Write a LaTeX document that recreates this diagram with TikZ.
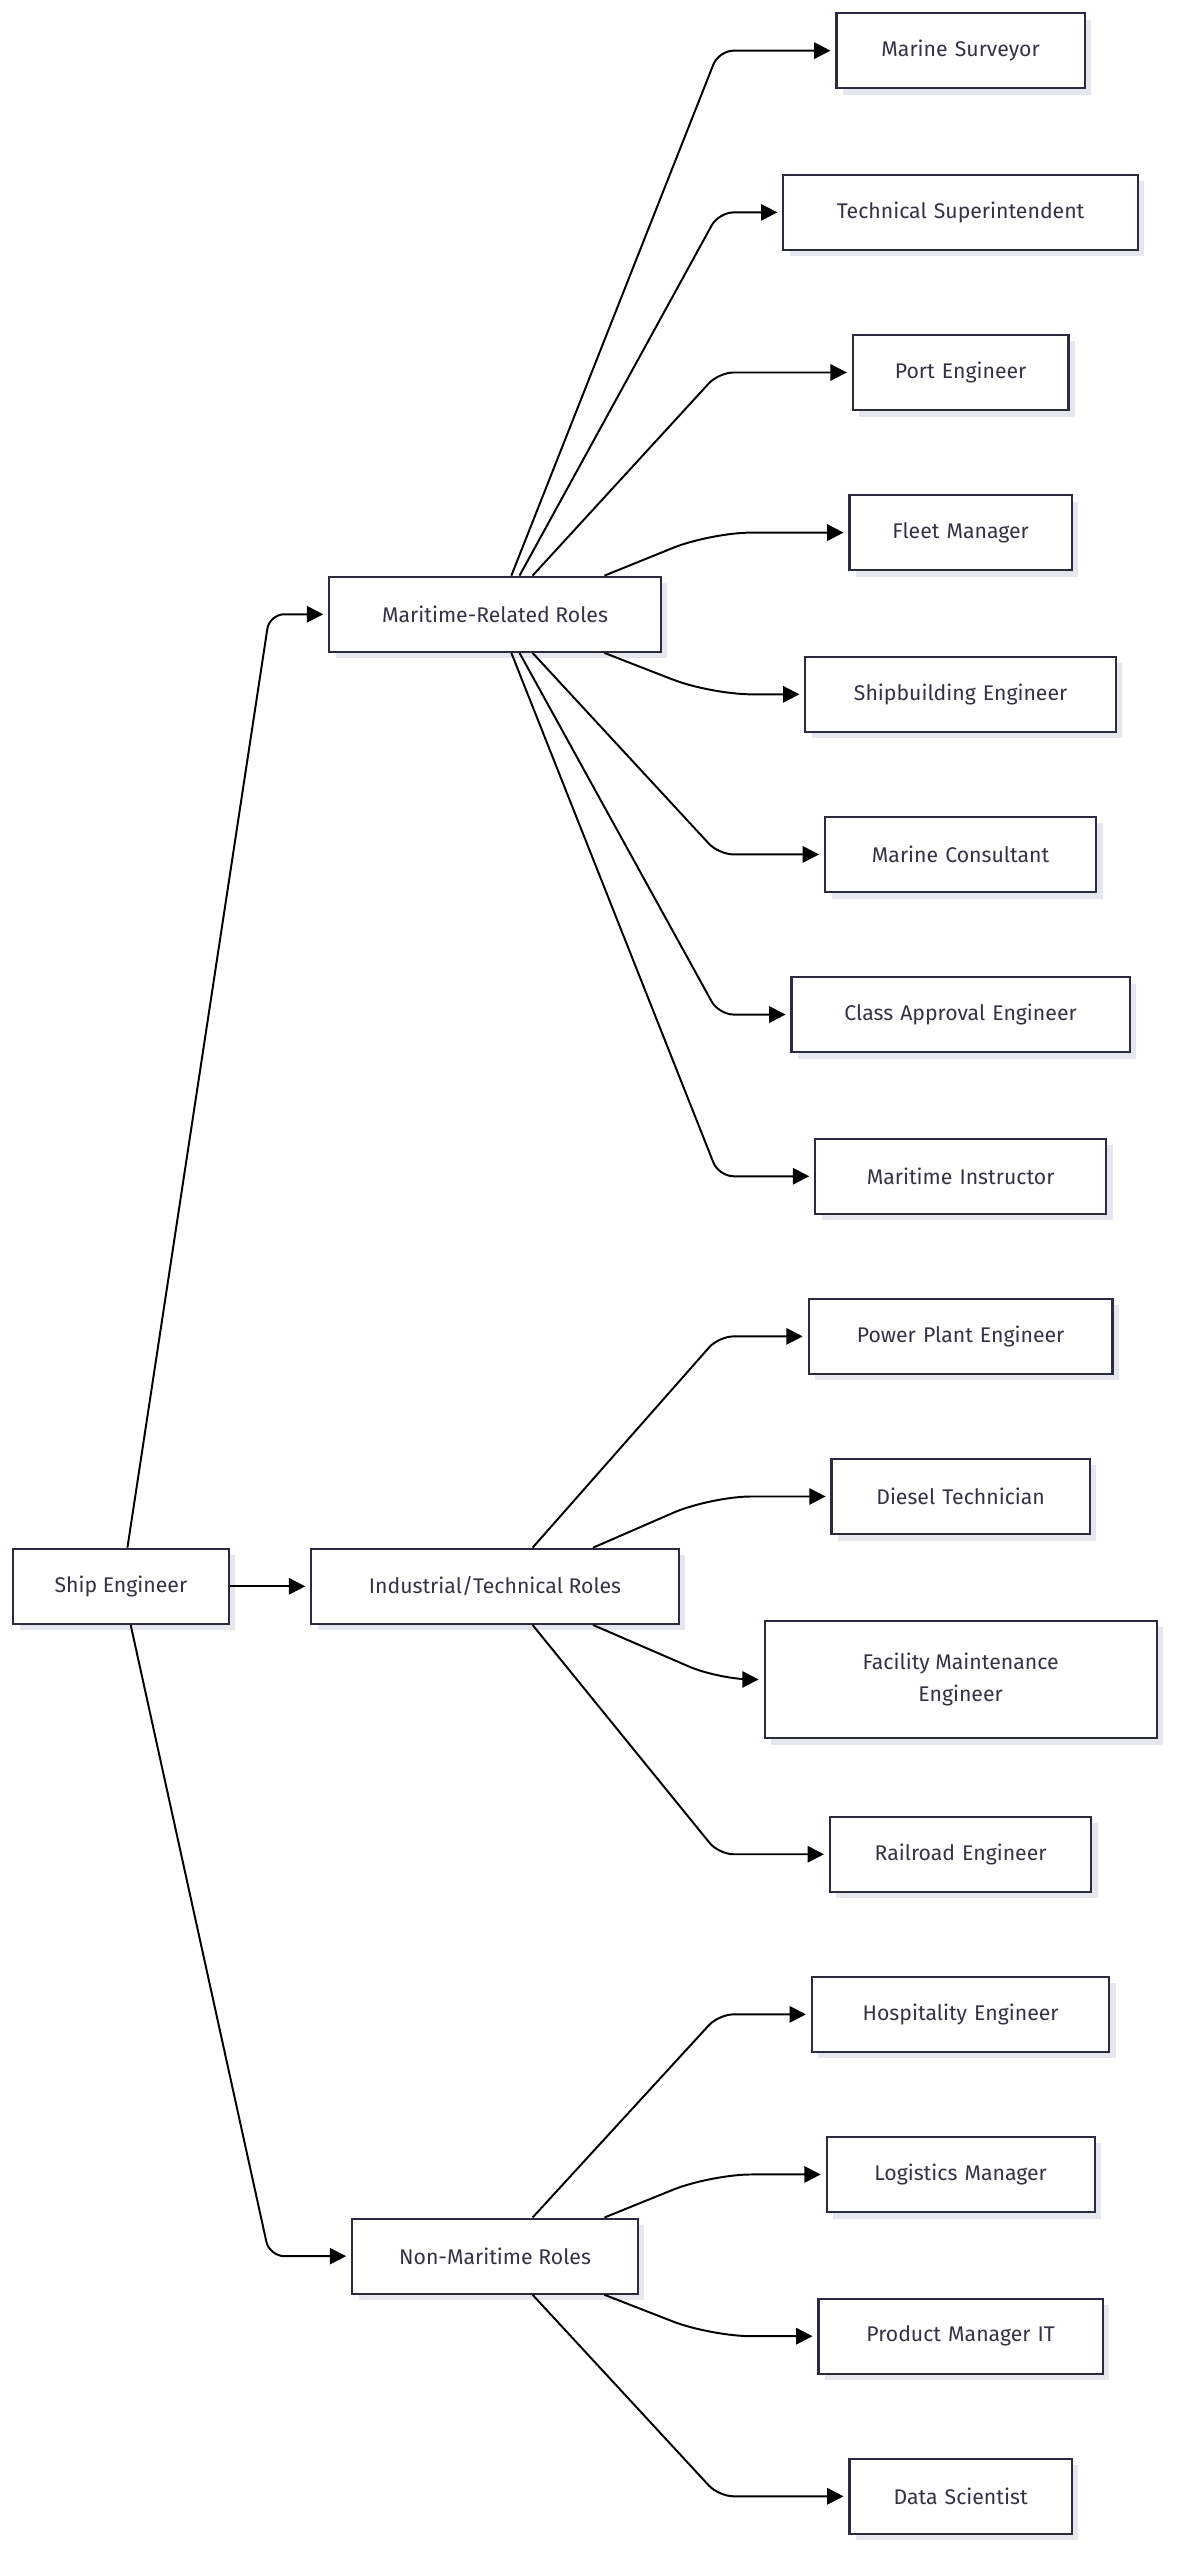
\documentclass[tikz,border=0pt]{standalone}
\usepackage{fontspec}
\setmainfont{Fira Sans}
\usetikzlibrary{arrows.meta,calc}
\definecolor{bd}{HTML}{2A2A40}
\definecolor{sh}{HTML}{E6E6EE}
\definecolor{tx}{HTML}{333344}
\begin{document}
\begin{tikzpicture}[x=1pt,y=-1pt,
 box/.style={draw=bd,line width=1.3pt,fill=white,minimum height=46pt,inner xsep=8pt,
   font=\fontsize{13}{20}\selectfont,text=tx,align=center,
   preaction={fill=sh,draw=none,transform canvas={shift={(4pt,-4pt)}}}},
 ed/.style={draw=black,line width=1.2pt,rounded corners=9pt,shorten >=3pt,-{Triangle[length=10pt,width=10pt]}}]
\useasboundingbox (0,0) rectangle (720,1567);
\node[box,minimum width=132pt] (se) at (74,971) {Ship Engineer};
\node[box,minimum width=203pt] (mr) at (303,376) {Maritime-Related Roles};
\node[box,minimum width=225pt] (it) at (303,971) {Industrial/Technical Roles};
\node[box,minimum width=175pt] (nm) at (303,1381) {Non-Maritime Roles};
\foreach \n/\w/\y/\t in {a/152/31/Marine Surveyor,b/217/130/Technical Superintendent,c/132/228/Port Engineer,d/136/326/Fleet Manager,e/190/425/Shipbuilding Engineer,f/166/523/Marine Consultant,g/207/621/Class Approval Engineer,h/178/720/Maritime Instructor,i/186/818/Power Plant Engineer,j/158/916/Diesel Technician,l/160/1135/Railroad Engineer,m/182/1233/Hospitality Engineer,n/164/1331/Logistics Manager,o/174/1430/Product Manager IT,p/136/1528/Data Scientist}
 \node[box,minimum width=\w pt,text width=\w pt-16pt] (\n) at (588,\y) {\t};
\node[box,minimum width=240pt,minimum height=72pt] (k) at (588,1028) {Facility Maintenance\\Engineer};
% ship engineer
\draw[ed] ([xshift=4pt]se.north) -- (165,376) -- (mr.west);
\draw[ed] (se.east) -- (it.west);
\draw[ed] ([xshift=6pt]se.south) -- (165,1381) -- (nm.west);
% maritime
\draw[ed] ([xshift=10pt]mr.north) -- (440,31) -- (a.west);
\draw[ed] ([xshift=15pt]mr.north) -- (440,130) -- (b.west);
\draw[ed] ([xshift=23pt]mr.north) -- (440,228) -- (c.west);
\draw[ed,rounded corners=25pt] ([xshift=67pt]mr.north) -- (435,326) -- (d.west);
\draw[ed,rounded corners=25pt] ([xshift=67pt]mr.south) -- (435,425) -- (e.west);
\draw[ed] ([xshift=23pt]mr.south) -- (440,523) -- (f.west);
\draw[ed] ([xshift=15pt]mr.south) -- (440,621) -- (g.west);
\draw[ed] ([xshift=10pt]mr.south) -- (440,720) -- (h.west);
% industrial
\draw[ed] ([xshift=23pt]it.north) -- (440,818) -- (i.west);
\draw[ed,rounded corners=25pt] ([xshift=60pt]it.north) -- (435,916) -- (j.west);
\draw[ed,rounded corners=20pt] ([xshift=60pt]it.south) -- (440,1028) -- (k.west);
\draw[ed] ([xshift=23pt]it.south) -- (440,1135) -- (l.west);
% non-maritime
\draw[ed] ([xshift=23pt]nm.north) -- (440,1233) -- (m.west);
\draw[ed,rounded corners=25pt] ([xshift=67pt]nm.north) -- (435,1331) -- (n.west);
\draw[ed,rounded corners=25pt] ([xshift=67pt]nm.south) -- (435,1430) -- (o.west);
\draw[ed] ([xshift=23pt]nm.south) -- (440,1528) -- (p.west);
\end{tikzpicture}
\end{document}
